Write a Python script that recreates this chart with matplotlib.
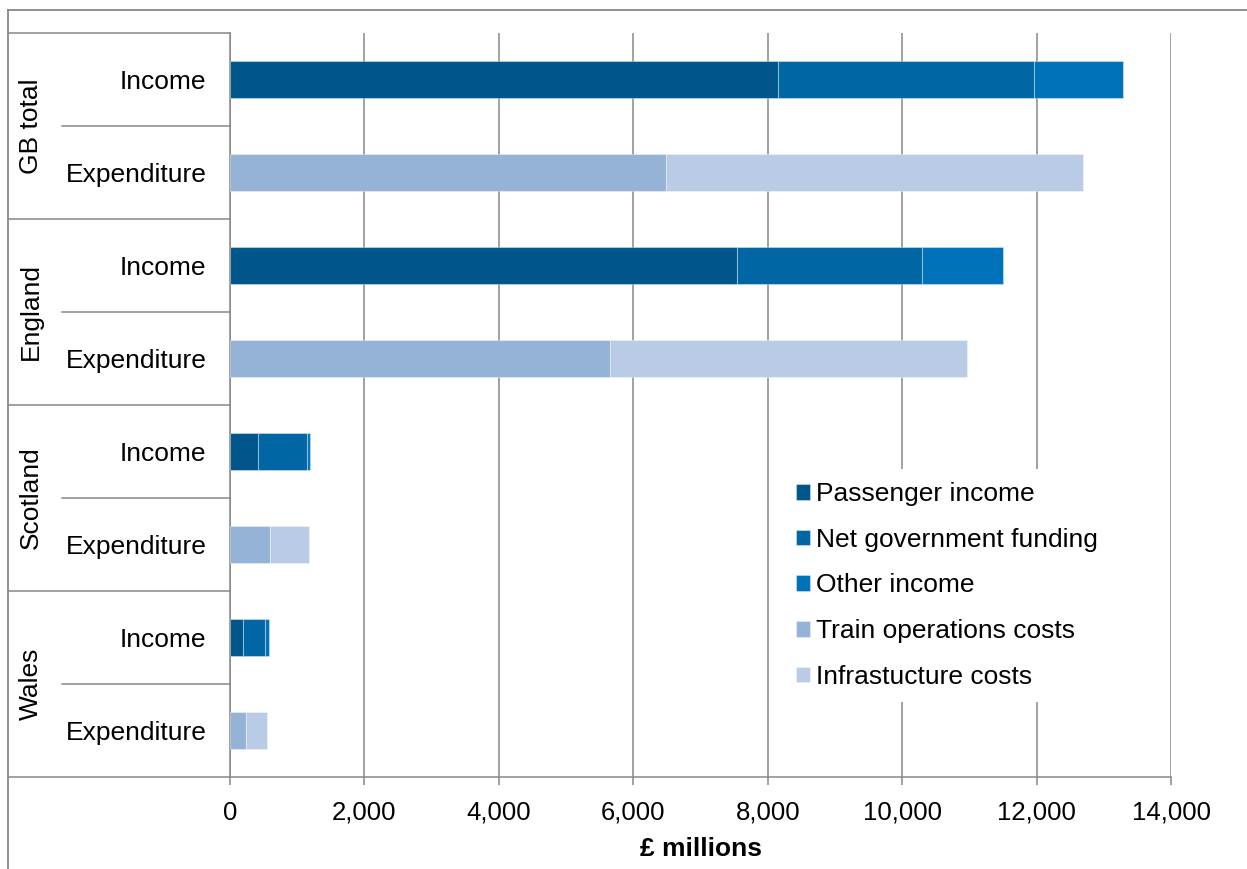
import matplotlib.pyplot as plt
import numpy as np
from matplotlib.lines import Line2D

plt.rcParams['font.family'] = ['Liberation Sans', 'DejaVu Sans']

regions = ["GB total", "England", "Scotland", "Wales"]
row_labels = ["Income", "Expenditure"] * 4

passenger = [8160, 7550, 410, 200]
net_gov = [3800, 2740, 740, 320]
other_income = [1330, 1210, 45, 65]
train_ops = [6480, 5650, 590, 238]
infra = [6210, 5310, 587, 318]

xticks = [0, 2000, 4000, 6000, 8000, 10000, 12000, 14000]

colours = {
    "Passenger income": "#00558B",
    "Net government funding": "#0066A4",
    "Other income": "#0072BA",
    "Train operations costs": "#95B3D7",
    "Infrastucture costs": "#B9CBE5",
}

W, H = 1247, 869
fig = plt.figure(figsize=(W / 100, H / 100), dpi=100)
ax = fig.add_axes([230 / W, 1 - 777 / H, (1171 - 230) / W, (777 - 33) / H])

grey = "#878787"
fs = 19
bh = 0.39
edge = (1, 1, 1, 0.35)

y_inc = np.arange(4) * 2
y_exp = y_inc + 1

p = np.array(passenger)
g = np.array(net_gov)
o = np.array(other_income)
t = np.array(train_ops)
f = np.array(infra)

ax.barh(y_inc, p, bh, color=colours["Passenger income"], edgecolor=edge, lw=0.8, label="Passenger income", zorder=3)
ax.barh(y_inc, g, bh, left=p, color=colours["Net government funding"], edgecolor=edge, lw=0.8, label="Net government funding", zorder=3)
ax.barh(y_inc, o, bh, left=p + g, color=colours["Other income"], edgecolor=edge, lw=0.8, label="Other income", zorder=3)
ax.barh(y_exp, t, bh, color=colours["Train operations costs"], edgecolor=edge, lw=0.8, label="Train operations costs", zorder=3)
ax.barh(y_exp, f, bh, left=t, color=colours["Infrastucture costs"], edgecolor=edge, lw=0.8, label="Infrastucture costs", zorder=3)

ax.set_xlim(0, 14000)
ax.set_ylim(7.5, -0.5)
ax.set_xticks(xticks)
ax.set_xticklabels([f"{v:,}" for v in xticks], fontsize=18.5)
ax.tick_params(axis="x", length=6, width=1.1, color=grey, pad=11)
ax.set_yticks(np.arange(8))
ax.set_yticklabels(row_labels, fontsize=fs)
ax.tick_params(axis="y", length=0, pad=17)
ax.grid(axis="x", color=grey, lw=1.1, zorder=0)
ax.set_axisbelow(True)
for s in ["top", "right"]:
    ax.spines[s].set_visible(False)
for s in ["left", "bottom"]:
    ax.spines[s].set_color(grey)
    ax.spines[s].set_linewidth(1.1)
ax.set_xlabel("£ millions", fontsize=fs, fontweight="bold", labelpad=9)

# category table on the left
tr = ax.get_yaxis_transform()
x_outer = (8 - 230) / 941
x_inner = (62 - 230) / 941
for b in [-0.5, 1.5, 3.5, 5.5, 7.5]:
    ax.plot([x_outer, 0], [b, b], color=grey, lw=1.1, transform=tr, clip_on=False)
for b in [0.5, 2.5, 4.5, 6.5]:
    ax.plot([x_inner, 0], [b, b], color=grey, lw=1.1, transform=tr, clip_on=False)
for i, r in enumerate(regions):
    ax.text((31 - 230) / 941, 2 * i + 0.5, r, rotation=90, ha="center", va="center",
            fontsize=fs, transform=tr)

# chart border (top and left visible)
fig.add_artist(Line2D([8 / W, 8 / W], [0, 1 - 9.5 / H], color=grey, lw=1.3))
fig.add_artist(Line2D([8 / W, 1], [1 - 9.5 / H, 1 - 9.5 / H], color=grey, lw=1.3))

ax.legend(loc="upper left", bbox_to_anchor=(783 / W, 1 - 469 / H), bbox_transform=fig.transFigure,
          fontsize=fs, frameon=True, facecolor="white", edgecolor="none", framealpha=1,
          fancybox=False, borderaxespad=0, borderpad=0.5, handlelength=0.53, handleheight=0.53,
          handletextpad=0.23, labelspacing=0.82)

fig.savefig("out.png", dpi=100)
